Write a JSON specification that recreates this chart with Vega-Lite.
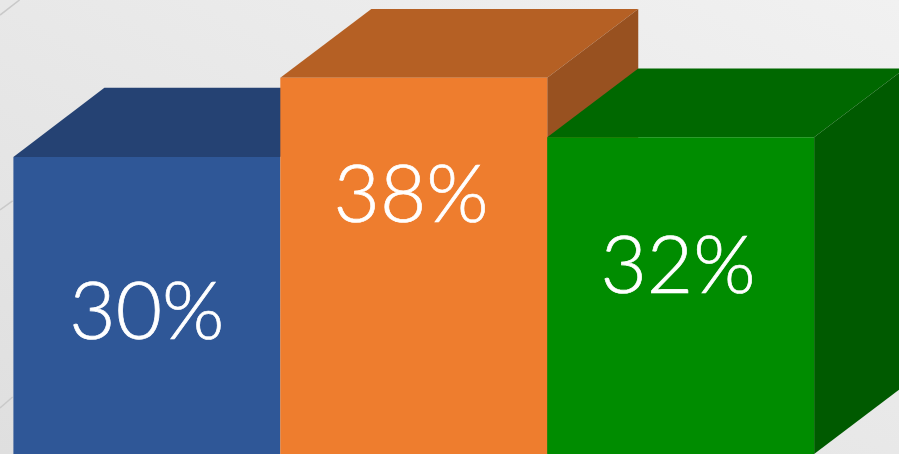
{
"$schema":"https://vega.github.io/schema/vega-lite/v6.json",
"width":899,"height":454,"padding":0,"autosize":{"type":"fit","contains":"padding"},
"background":"#e8e8e8",
"view":{"stroke":null},
"config":{"axis":{"disable":true}},
"datasets":{
"backdrop":[{"x0":-0.0502,"x1":3.318,"y0":0,"y1":45.86}],
"streaks":[
{"x0":-0.0502,"y0":44.34,"x1":0.023,"y1":45.86},
{"x0":-0.0502,"y0":24.65,"x1":-0.003,"y1":25.56},
{"x0":-0.0502,"y0":4.65,"x1":-0.003,"y1":5.76}],
"faces":[
{"face":"a-top","x":0,"top":30,"base":30},{"face":"a-top","x":0.341,"top":37,"base":30},{"face":"a-top","x":1,"top":37,"base":30},{"face":"a-top","x":1.341,"top":37,"base":37},
{"face":"a-front","x":0,"top":30,"base":0},{"face":"a-front","x":1,"top":30,"base":0},
{"face":"b-top","x":1,"top":38,"base":38},{"face":"b-top","x":1.341,"top":44.95,"base":38},{"face":"b-top","x":2,"top":44.95,"base":38},{"face":"b-top","x":2.341,"top":44.95,"base":44.95},
{"face":"b-side","x":2,"top":38,"base":0},{"face":"b-side","x":2.341,"top":44.95,"base":6.95},
{"face":"b-front","x":1,"top":38,"base":0},{"face":"b-front","x":2,"top":38,"base":0},
{"face":"c-top","x":2,"top":32,"base":32},{"face":"c-top","x":2.341,"top":38.95,"base":32},{"face":"c-top","x":3,"top":38.95,"base":32},{"face":"c-top","x":3.341,"top":38.95,"base":38.95},
{"face":"c-side","x":3,"top":32,"base":0},{"face":"c-side","x":3.341,"top":38.95,"base":6.95},
{"face":"c-front","x":2,"top":32,"base":0},{"face":"c-front","x":3,"top":32,"base":0}],
"labels":[
{"label":"30%","x":0.5,"y":14.0},
{"label":"38%","x":1.49,"y":25.9},
{"label":"32%","x":2.49,"y":18.65}]
},
"encoding":{
"x":{"type":"quantitative","scale":{"domain":[-0.0502,3.318],"nice":false,"zero":false},"axis":null},
"y":{"type":"quantitative","scale":{"domain":[0,45.86],"nice":false},"axis":null}
},
"layer":[
{"data":{"name":"backdrop"},
 "mark":{"type":"rect","color":{"gradient":"linear","x1":0,"y1":1,"x2":1,"y2":0,"stops":[{"offset":0,"color":"#dfdfdf"},{"offset":1,"color":"#f1f1f1"}]}},
 "encoding":{"x":{"field":"x0"},"x2":{"field":"x1"},"y":{"field":"y0"},"y2":{"field":"y1"}}},
{"data":{"name":"streaks"},
 "mark":{"type":"rule","color":"#c9c9c9","strokeWidth":1.5,"clip":true},
 "encoding":{"x":{"field":"x0"},"x2":{"field":"x1"},"y":{"field":"y0"},"y2":{"field":"y1"}}},
{"data":{"name":"faces"},
 "mark":{"type":"area","clip":true,"opacity":1,"interpolate":"linear"},
 "encoding":{
  "x":{"field":"x"},
  "y":{"field":"top"},
  "y2":{"field":"base"},
  "detail":{"field":"face"},
  "color":{"field":"face","type":"nominal","legend":null,"sort":null,
   "scale":{"domain":["a-top","a-front","b-top","b-side","b-front","c-top","c-side","c-front"],
            "range":["#254273","#2f5797","#b56024","#985120","#ee7d2e","#006800","#005a00","#008c00"]}}
 }},
{"data":{"name":"labels"},
 "mark":{"type":"text","font":"Lato","fontWeight":300,"fontSize":80,"color":"#ffffff","stroke":"#ffffff","strokeWidth":0.7,"baseline":"middle","align":"center"},
 "encoding":{"x":{"field":"x"},"y":{"field":"y"},"text":{"field":"label","type":"nominal"}}}
]
}
